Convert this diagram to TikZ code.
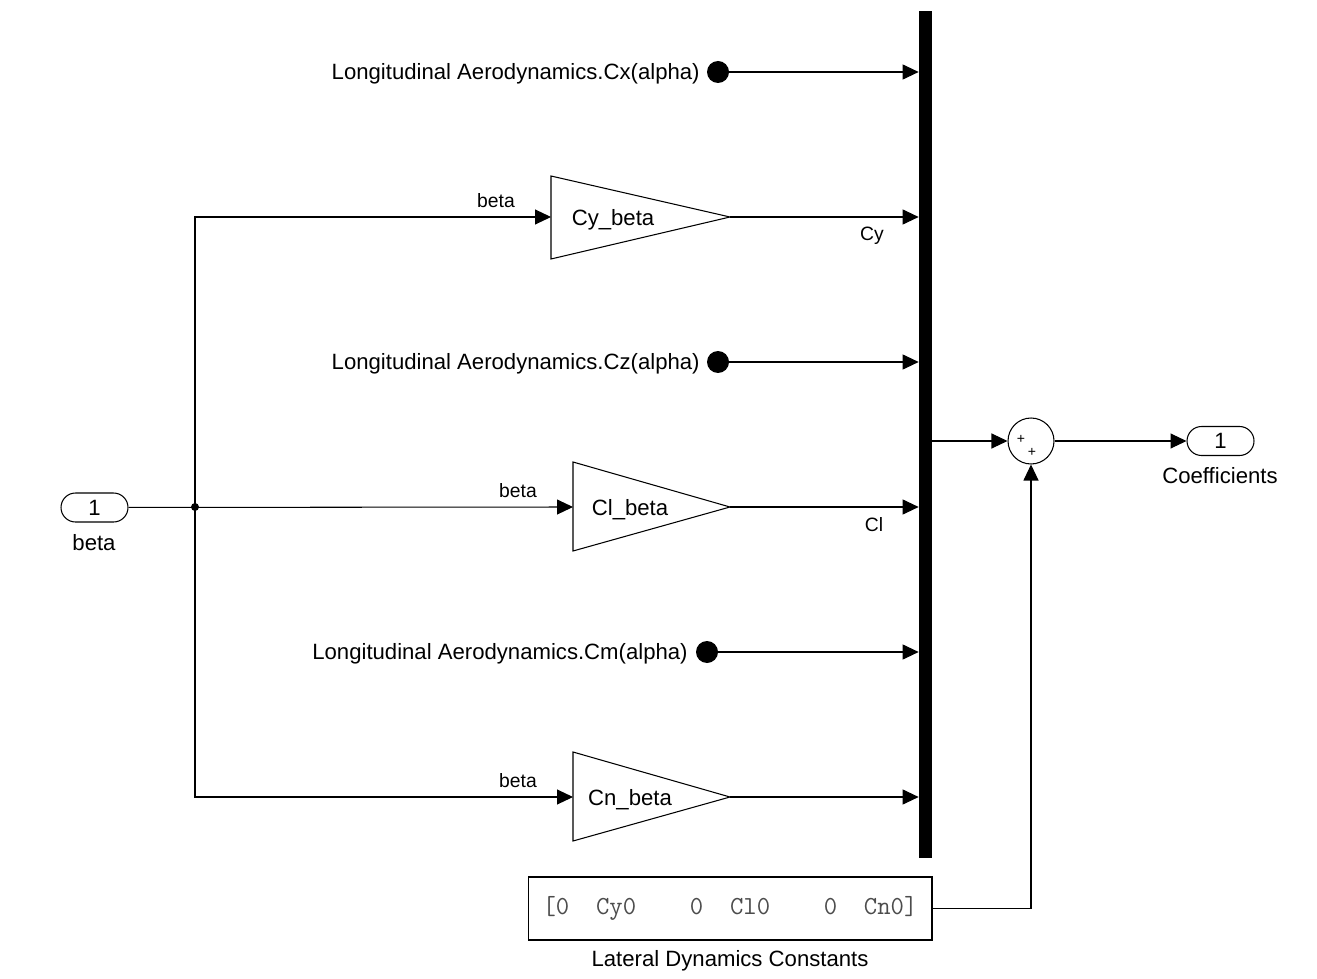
\documentclass[tikz,border=0pt]{standalone}
\usepackage{fontspec}
\setmainfont{Liberation Sans}
\usetikzlibrary{arrows.meta,shapes.misc}

\begin{document}
\begin{tikzpicture}[x=0.02cm,y=-0.02cm,
    sig/.style={-{Triangle[length=0.32cm,width=0.3cm]}, line width=0.6pt},
    port/.style={draw, line width=0.6pt, rounded rectangle, minimum width=1.34cm, minimum height=0.58cm, inner sep=0pt, font=\fontsize{12.6}{15}\selectfont},
    lbl/.style={font=\fontsize{12.6}{15}\selectfont, inner sep=0pt},
    slbl/.style={font=\fontsize{11}{13}\selectfont, inner sep=0pt},
    tagdot/.style={circle, fill=black, minimum size=0.44cm, inner sep=0pt},
    gainbox/.style={line width=0.6pt}]
    \useasboundingbox (0,0) rectangle (1317,979);

    \node[fill=black, minimum width=0.26cm, minimum height=16.94cm, inner sep=0pt] (mux) at (925.5,434.5) {};

    \node[port] (inb) at (94.5,507.5) {1};
    \node[lbl] (inblbl) at (94,543) {beta};
    \coordinate (br) at (195,507);

    \node[tagdot] (tagcx) at (718,72) {};
    \node[lbl, anchor=east] (cxlbl) at (700,73.5) {Longitudinal Aerodynamics.Cx(alpha)};
    \node[tagdot] (tagcz) at (718,362) {};
    \node[lbl, anchor=east] (czlbl) at (700,363.5) {Longitudinal Aerodynamics.Cz(alpha)};
    \node[tagdot] (tagcm) at (707,652) {};
    \node[lbl, anchor=east] (cmlbl) at (688,653.5) {Longitudinal Aerodynamics.Cm(alpha)};

    \draw[gainbox] (551,176) -- (730,217) -- (551,259) -- cycle;
    \coordinate (cyb-in) at (551,217);
    \coordinate (cyb-out) at (730,217);
    \node[lbl] (cyb) at (613,219.5) {Cy\_beta};
    \draw[gainbox] (573,462) -- (730,507) -- (573,551) -- cycle;
    \coordinate (clb-in) at (573,507);
    \coordinate (clb-out) at (730,507);
    \node[lbl] (clb) at (630,509.5) {Cl\_beta};
    \draw[gainbox] (573,752) -- (730,797) -- (573,841) -- cycle;
    \coordinate (cnb-in) at (573,797);
    \coordinate (cnb-out) at (730,797);
    \node[lbl] (cnb) at (630,799.5) {Cn\_beta};

    \node[draw, circle, line width=0.6pt, minimum size=0.92cm, inner sep=0pt] (sum) at (1031,441) {};
    \node[inner sep=0pt, font=\fontsize{8}{9}\selectfont] (sp1) at (1021,439) {+};
    \node[inner sep=0pt, font=\fontsize{8}{9}\selectfont] (sp2) at (1032,452) {+};
    \node[port] (outp) at (1220.5,441) {1};
    \node[lbl] (outlbl) at (1220,476) {Coefficients};

    \node[draw, line width=0.6pt, minimum width=8.08cm, minimum height=1.26cm, inner sep=0pt, text=black!70, font=\fontsize{14.8}{16}\ttfamily] (const) at (730,908.5) {[0\ \ Cy0\ \ \ \ 0\ \ Cl0\ \ \ \ 0\ \ Cn0]};
    \node[lbl] (constlbl) at (730,961) {Lateral Dynamics Constants};

    \draw[sig] (tagcx) -- (tagcx -| mux.west);
    \draw[sig] (tagcz) -- (tagcz -| mux.west);
    \draw[sig] (tagcm) -- (tagcm -| mux.west);
    \draw[sig] (cyb-out) -- (cyb-out -| mux.west);
    \draw[sig] (clb-out) -- (clb-out -| mux.west);
    \draw[sig] (cnb-out) -- (cnb-out -| mux.west);
    \node[slbl] (cysig) at (872,236) {Cy};
    \node[slbl] (clsig) at (874,525) {Cl};

    \draw[sig] (inb) -- (clb-in);
    \draw[sig] (br) |- (cyb-in);
    \draw[sig] (br) |- (cnb-in);
    \fill (br) circle (4);
    \node[slbl] (beta1) at (496,201) {beta};
    \node[slbl] (beta2) at (518,491) {beta};
    \node[slbl] (beta3) at (518,781) {beta};

    \draw[sig] (mux.east |- sum) -- (sum);
    \draw[sig] (sum) -- (outp);
    \draw[sig] (const) -| (sum);
\end{tikzpicture}
\end{document}
